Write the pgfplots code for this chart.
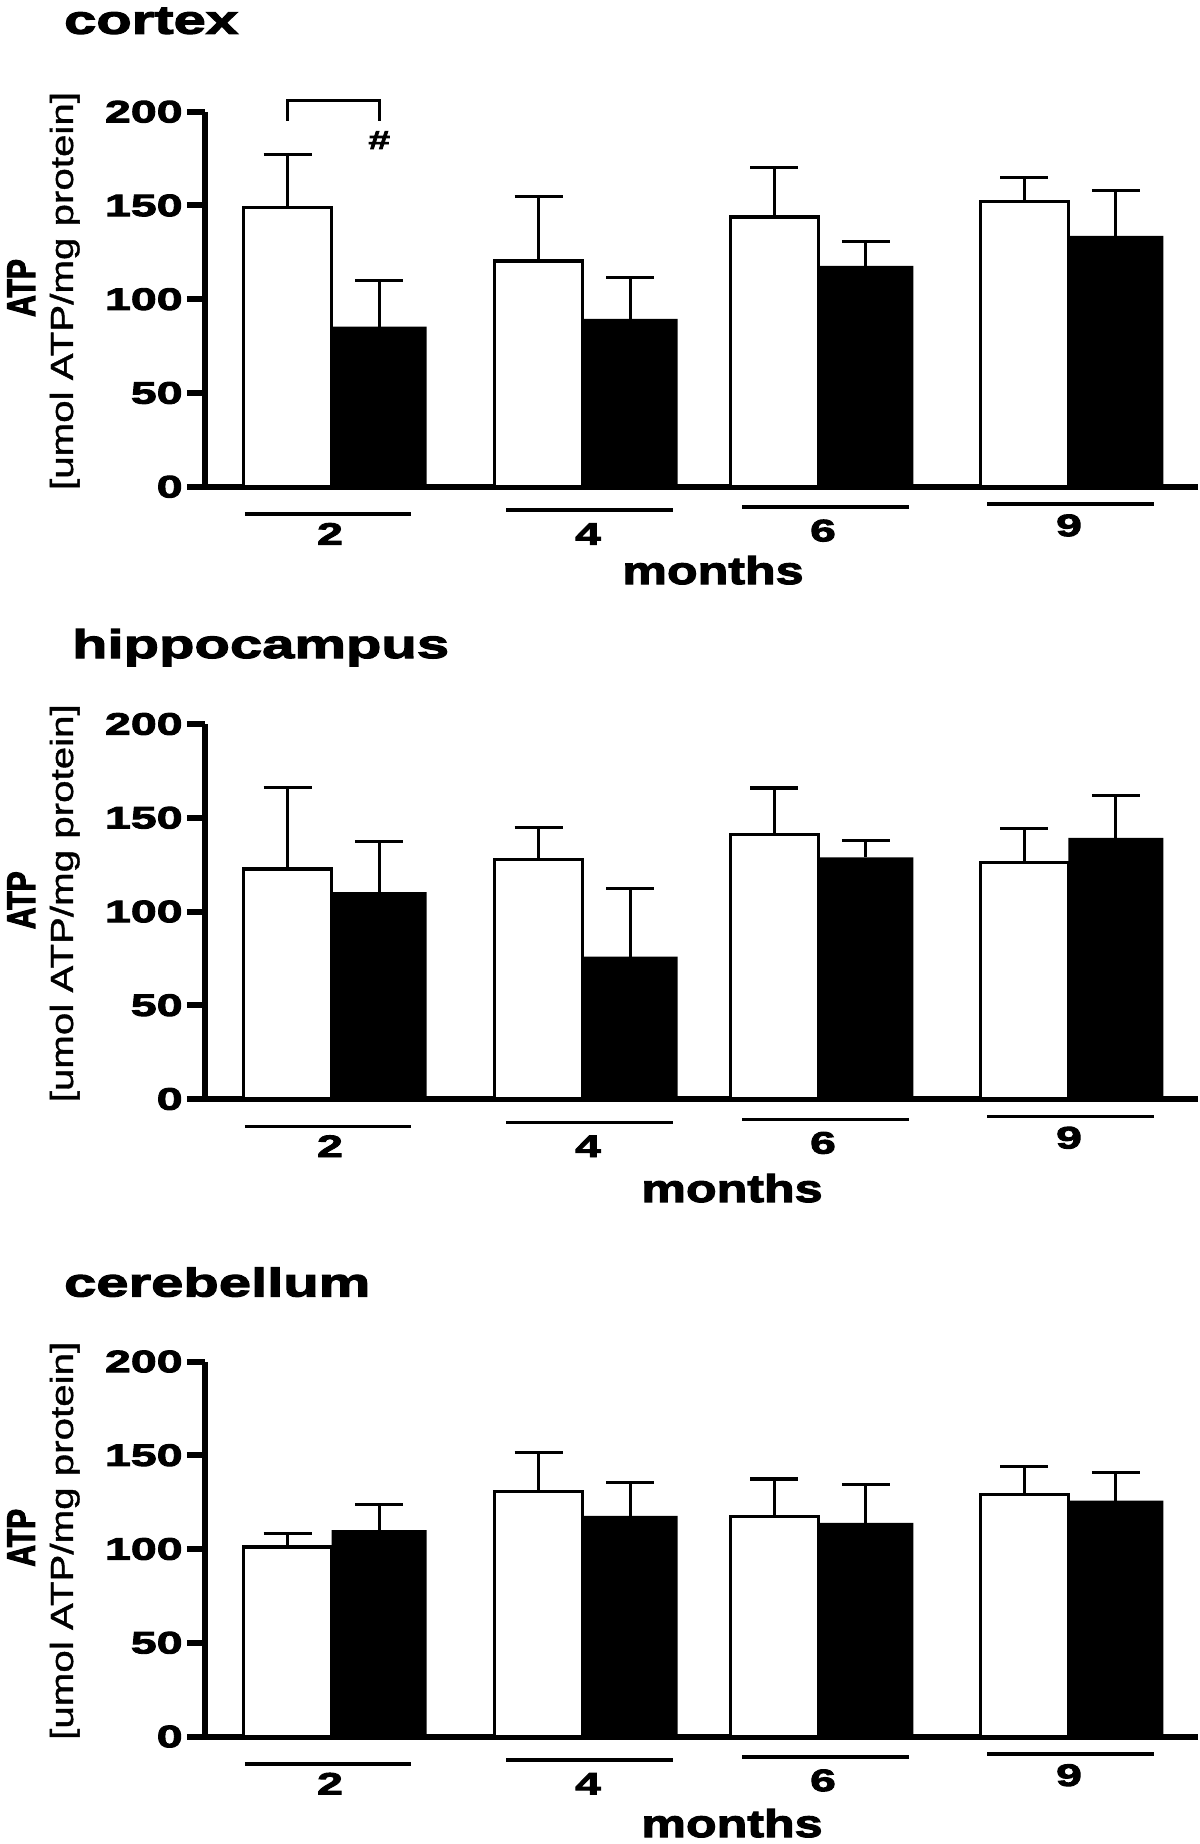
\documentclass[border=0pt]{standalone}
\usepackage{fontspec}
\setmainfont{Liberation Sans}
\newfontfamily\widefont{Liberation Sans}[FakeStretch=1.5, FakeBold=3]
\newfontfamily\titlefont{Liberation Sans}[FakeStretch=1.45, FakeBold=3]
\newfontfamily\monthsfont{Liberation Sans}[FakeStretch=1.3, FakeBold=3]
\newfontfamily\atpfont{Liberation Sans}[FakeStretch=0.75, FakeBold=2.5]
\newfontfamily\unitfont{Liberation Sans}[FakeStretch=1.26, FakeBold=1.2]
\usepackage{pgfplots}
\pgfplotsset{compat=1.18}

\pgfplotsset{
  panel/.style={
    scale only axis, width=496.5pt, height=187.5pt,
    xmin=205, xmax=1198, ymin=0, ymax=200,
    axis x line=bottom, axis y line=left,
    axis line style={-, line width=3pt, black},
    ytick={0,50,100,150,200},
    xtick={330,588,823,1069},
    xticklabels={2,4,\raisebox{1.7pt}{6},\raisebox{4.3pt}{9}},
    tick align=outside,
    major tick length=9pt,
    y tick style={line width=3pt, black},
    x tick style={draw=none},
    /pgf/number format/assume math mode=true,
    ticklabel style={font=\widefont\bfseries\fontsize{15.5pt}{16pt}\selectfont},
    yticklabel style={anchor=east, inner sep=0pt, xshift=-2pt},
    xticklabel style={anchor=base, inner sep=0pt, yshift=-20pt},
    clip=false,
    ybar,
  },
  whitebar/.style={fill=white, draw=black, line width=1.65pt, bar width=88, bar shift=-44,
    error bars/.cd, y dir=plus, y explicit,
    error bar style={line width=1.65pt, black},
    error mark options={rotate=90, mark size=12pt, line width=1.65pt, black}},
  blackbar/.style={fill=black, draw=none, bar width=95, bar shift=47.5,
    error bars/.cd, y dir=plus, y explicit,
    error bar style={line width=1.65pt, black},
    error mark options={rotate=90, mark size=12pt, line width=1.65pt, black}},
}
\tikzset{
  title node/.style={anchor=base west, font=\titlefont\bfseries\fontsize{20pt}{20pt}\selectfont},
  months node/.style={anchor=base, font=\monthsfont\bfseries\fontsize{19.3pt}{20pt}\selectfont},
  atp node/.style={rotate=90, anchor=base, font=\atpfont\bfseries\fontsize{20pt}{20pt}\selectfont},
  unit node/.style={rotate=90, anchor=base, font=\unitfont\fontsize{16pt}{16pt}\selectfont},
}

\newcommand{\grouplines}{%
  \draw[line width=1.75pt] (axis cs:245,-14.56) -- (axis cs:411,-14.56);
  \draw[line width=1.75pt] (axis cs:506,-12.43) -- (axis cs:673,-12.43);
  \draw[line width=1.75pt] (axis cs:742,-10.83) -- (axis cs:909,-10.83);
  \draw[line width=1.75pt] (axis cs:987,-9.28) -- (axis cs:1154,-9.28);
  \node[atp node] at (axis cs:35,106) {ATP};
  \node[unit node] at (axis cs:73,104.4) {[umol ATP/mg protein]};
}

\begin{document}
\begin{tikzpicture}
\path[use as bounding box] (0,0) rectangle (600pt,-922pt);

% ---------------- cortex ----------------
\begin{axis}[panel, at={(102.5pt,-243.35pt)}, anchor=south west]
\addplot[whitebar] coordinates {
  (331.7,148.8) +- (0,28.4)
  (582.7,120.3) +- (0,34.4)
  (818.3,143.8) +- (0,26.4)
  (1068.3,152.1) +- (0,13.0)
};
\addplot[blackbar] coordinates {
  (331.7,85.4) +- (0,24.6)
  (582.7,89.5) +- (0,21.9)
  (818.3,117.8) +- (0,12.9)
  (1068.3,133.8) +- (0,24.3)
};
\grouplines
\node[title node] at (axis cs:57,241.6) {cortex};
\node[months node] at (axis cs:713,-51.9) {months};
\draw[line width=1.65pt] (axis cs:287.7,195.2) -- (axis cs:287.7,205.9) -- (axis cs:379.3,205.9) -- (axis cs:379.3,195.2);
\node[font=\widefont\bfseries\fontsize{13pt}{13pt}\selectfont] at (axis cs:379.3,184.9) {\#};
\end{axis}

% ---------------- hippocampus ----------------
\begin{axis}[panel, at={(102.5pt,-549.5pt)}, anchor=south west]
\addplot[whitebar] coordinates {
  (331.7,122.7) +- (0,43.5)
  (582.7,127.7) +- (0,17.1)
  (818.3,141.1) +- (0,24.7)
  (1068.3,126.0) +- (0,18.2)
};
\addplot[blackbar] coordinates {
  (331.7,110.3) +- (0,26.9)
  (582.7,76.0) +- (0,36.4)
  (818.3,128.9) +- (0,9.1)
  (1068.3,139.3) +- (0,22.6)
};
\grouplines
\node[title node] at (axis cs:65,235.2) {hippocampus};
\node[months node] at (axis cs:732,-54.9) {months};
\end{axis}

% ---------------- cerebellum ----------------
\begin{axis}[panel, at={(102.5pt,-868.25pt)}, anchor=south west]
\addplot[whitebar] coordinates {
  (331.7,101.0) +- (0,7.1)
  (582.7,130.8) +- (0,20.8)
  (818.3,117.5) +- (0,19.8)
  (1068.3,129.2) +- (0,14.7)
};
\addplot[blackbar] coordinates {
  (331.7,110.1) +- (0,13.7)
  (582.7,117.7) +- (0,17.6)
  (818.3,113.9) +- (0,20.4)
  (1068.3,125.8) +- (0,15.1)
};
\grouplines
\node[title node] at (axis cs:57,234.7) {cerebellum};
\node[months node] at (axis cs:732,-53.6) {months};
\end{axis}
\end{tikzpicture}
\end{document}
